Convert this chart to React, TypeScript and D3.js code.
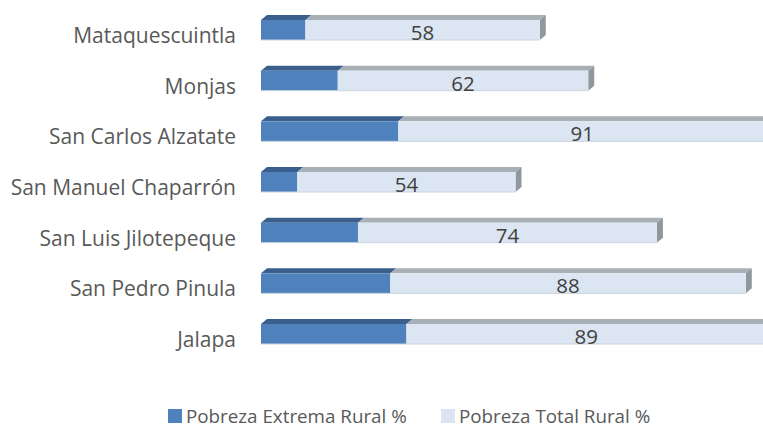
import React from "react";
import { scaleLinear, scalePoint } from "d3";

const categories = [
  "Mataquescuintla",
  "Monjas",
  "San Carlos Alzatate",
  "San Manuel Chaparrón",
  "San Luis Jilotepeque",
  "San Pedro Pinula",
  "Jalapa",
];
const extremaRural = [11, 19, 34, 9, 24, 32, 36];
const totalRural = [58, 62, 91, 54, 74, 88, 89];
const seriesNames = ["Pobreza Extrema Rural %", "Pobreza Total Rural %"];

const W = 763;
const H = 428;
const FONT = "'Open Sans', sans-serif";

// 3d look of the excel bars
const DX = 6;
const DY = 5;
const BAR_H = 20;

const colors = {
  darkFront: "#4f81bd",
  darkTop: "#3b5f8c",
  lightFront: "#dce6f2",
  lightTop: "#a7afb7",
  side: "#8f979f",
};

const App = () => {
  const x = scaleLinear().domain([0, 125]).range([261, 766]);
  const y = scalePoint<string>().domain(categories).range([30, 334]);

  const bars = categories.map((c, i) => {
    const yc = y(c) as number;
    const top = yc - BAR_H / 2;
    const bot = yc + BAR_H / 2;
    const x0 = x(0);
    const x1 = x(extremaRural[i]);
    const x2 = x(extremaRural[i] + totalRural[i]);
    const topFace = (a: number, b: number) =>
      `M${a},${top} L${a + DX},${top - DY} L${b + DX},${top - DY} L${b},${top} Z`;
    return (
      <g key={c}>
        <path d={topFace(x0, x1)} fill={colors.darkTop} />
        <path d={topFace(x1, x2)} fill={colors.lightTop} />
        <path
          d={`M${x2},${top} L${x2 + DX},${top - DY} L${x2 + DX},${bot - DY} L${x2},${bot} Z`}
          fill={colors.side}
        />
        <rect x={x0} y={top} width={x1 - x0} height={BAR_H} fill={colors.darkFront} />
        <rect x={x1} y={top} width={x2 - x1} height={BAR_H} fill={colors.lightFront} />
        <line x1={x0} x2={x2} y1={bot} y2={bot} stroke="#c9d3de" strokeWidth={1} />
        <text
          x={236}
          y={yc + 13}
          textAnchor="end"
          fontSize={21}
          fill="#595959"
          fontFamily={FONT}
        >
          {c}
        </text>
        <text
          x={(x1 + x2) / 2}
          y={yc + 10}
          textAnchor="middle"
          fontSize={20.5}
          fill="#404040"
          fontFamily={FONT}
        >
          {totalRural[i]}
        </text>
      </g>
    );
  });

  const legend = [
    { name: seriesNames[0], color: colors.darkFront, x: 168 },
    { name: seriesNames[1], color: colors.lightFront, x: 441 },
  ];

  return (
    <svg
      width={W}
      height={H}
      style={{ position: "absolute", left: 0, top: 0, background: "#fff" }}
    >
      {bars}
      {legend.map((l) => (
        <g key={l.name}>
          <rect x={l.x} y={409} width={14} height={14} fill={l.color} />
          <text x={l.x + 18} y={422.5} fontSize={18.8} fill="#595959" fontFamily={FONT}>
            {l.name}
          </text>
        </g>
      ))}
    </svg>
  );
};

export default App;
